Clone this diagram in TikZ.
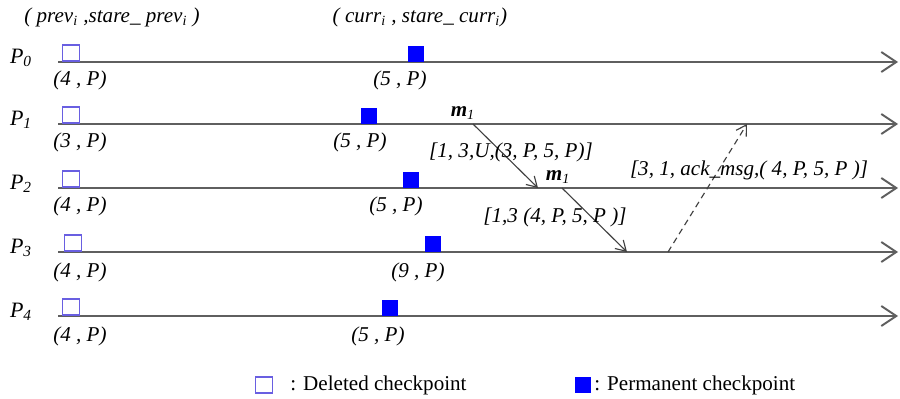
\documentclass[tikz,border=0pt]{standalone}
\usepackage{fontspec}
\setmainfont{Liberation Serif}
\usetikzlibrary{positioning}
\usetikzlibrary{arrows.meta}
\definecolor{tlgray}{RGB}{95, 95, 95}
\definecolor{delblue}{RGB}{105, 95, 225}
\definecolor{permblue}{RGB}{0, 0, 255}

\begin{document}
\begin{tikzpicture}[x=0.02cm, y=-0.02cm,
  tline/.style={draw=tlgray, line width=1.1pt,
    -{Straight Barb[length=0.3cm, width=0.4cm]}},
  msg/.style={draw=black!75, line width=0.65pt,
    -{Straight Barb[length=0.2cm, width=0.24cm]}},
  ack/.style={msg, dash pattern=on 3.5pt off 2.5pt},
  delck/.style={rectangle, draw=delblue, line width=0.9pt,
    minimum width=0.34cm, minimum height=0.33cm, inner sep=0pt, anchor=south},
  permck/.style={rectangle, fill=permblue,
    minimum width=0.32cm, minimum height=0.32cm, inner sep=0pt, anchor=south},
  proc/.style={font=\fontsize{12.5}{14}\selectfont\itshape, inner sep=0pt},
  ckl/.style={font=\fontsize{12}{14}\selectfont\itshape, inner sep=0pt},
  legtxt/.style={font=\fontsize{12}{14}\selectfont, inner sep=0pt, anchor=west}
]
  \useasboundingbox (0,0) rectangle (900,399);

  % headers
  \node[ckl] (hprev) at (112,17)
    {( prev\textsubscript{i} ,stare\_ prev\textsubscript{i} )};
  \node[ckl] (hcurr) at (420,17)
    {( curr\textsubscript{i} , stare\_ curr\textsubscript{i})};

  % processes
  \node[proc] (P0) at (21,58)  {P\textsubscript{0}};
  \node[proc] (P1) at (21,120) {P\textsubscript{1}};
  \node[proc] (P2) at (21,184) {P\textsubscript{2}};
  \node[proc] (P3) at (21,248) {P\textsubscript{3}};
  \node[proc] (P4) at (21,312) {P\textsubscript{4}};

  \coordinate (s0) at (58,62);  \coordinate (e0) at (898,62);
  \coordinate (s1) at (58,124); \coordinate (e1) at (898,124);
  \coordinate (s2) at (58,188); \coordinate (e2) at (898,188);
  \coordinate (s3) at (58,252); \coordinate (e3) at (898,252);
  \coordinate (s4) at (58,316); \coordinate (e4) at (898,316);
  \draw[tline] (s0) -- (e0);
  \draw[tline] (s1) -- (e1);
  \draw[tline] (s2) -- (e2);
  \draw[tline] (s3) -- (e3);
  \draw[tline] (s4) -- (e4);

  % checkpoints
  \node[delck] (d0) at (71,62)  {};
  \node[delck] (d1) at (71,124) {};
  \node[delck] (d2) at (71,188) {};
  \node[delck] (d3) at (73,252) {};
  \node[delck] (d4) at (71,316) {};
  \node[permck] (c0) at (416,62)  {};
  \node[permck] (c1) at (369,124) {};
  \node[permck] (c2) at (411,188) {};
  \node[permck] (c3) at (433,252) {};
  \node[permck] (c4) at (390,316) {};

  \node[ckl] (ld0) at (80,80)   {(4 , P)};
  \node[ckl] (ld1) at (80,142)  {(3 , P)};
  \node[ckl] (ld2) at (80,206)  {(4 , P)};
  \node[ckl] (ld3) at (80,272)  {(4 , P)};
  \node[ckl] (ld4) at (80,336)  {(4 , P)};
  \node[ckl] (lc0) at (400,80)  {(5 , P)};
  \node[ckl] (lc1) at (360,142) {(5 , P)};
  \node[ckl] (lc2) at (396,206) {(5 , P)};
  \node[ckl] (lc3) at (418,272) {(9 , P)};
  \node[ckl] (lc4) at (378,336) {(5 , P)};

  % messages
  \coordinate (m1a) at (473,124); \coordinate (m1b) at (538,188);
  \coordinate (m2a) at (562,188); \coordinate (m2b) at (627,252);
  \coordinate (ka) at (668,252);  \coordinate (kb) at (747,124);
  \draw[msg] (m1a) -- (m1b);
  \draw[msg] (m2a) -- (m2b);
  \draw[ack] (ka) -- (kb);
  \node[ckl] (mm1) at (463,113) {\textbf{m}\textsubscript{1}};
  \node[ckl] (mm2) at (558,177) {\textbf{m}\textsubscript{1}};
  \node[ckl] (lm1) at (511,152) {[1, 3,U,(3, P, 5, P)]};
  \node[ckl] (lm2) at (555,217) {[1,3 (4, P, 5, P )]};
  \node[ckl] (lk)  at (749,170) {[3, 1, ack\_msg,( 4, P, 5, P )]};

  % legend
  \node[delck, anchor=center] (legd) at (264,385) {};
  \node[legtxt] (legdt) at (290,385) {: Deleted checkpoint};
  \node[permck, anchor=center] (legp) at (583,385) {};
  \node[legtxt] (legpt) at (594,385) {: Permanent checkpoint};
\end{tikzpicture}
\end{document}
